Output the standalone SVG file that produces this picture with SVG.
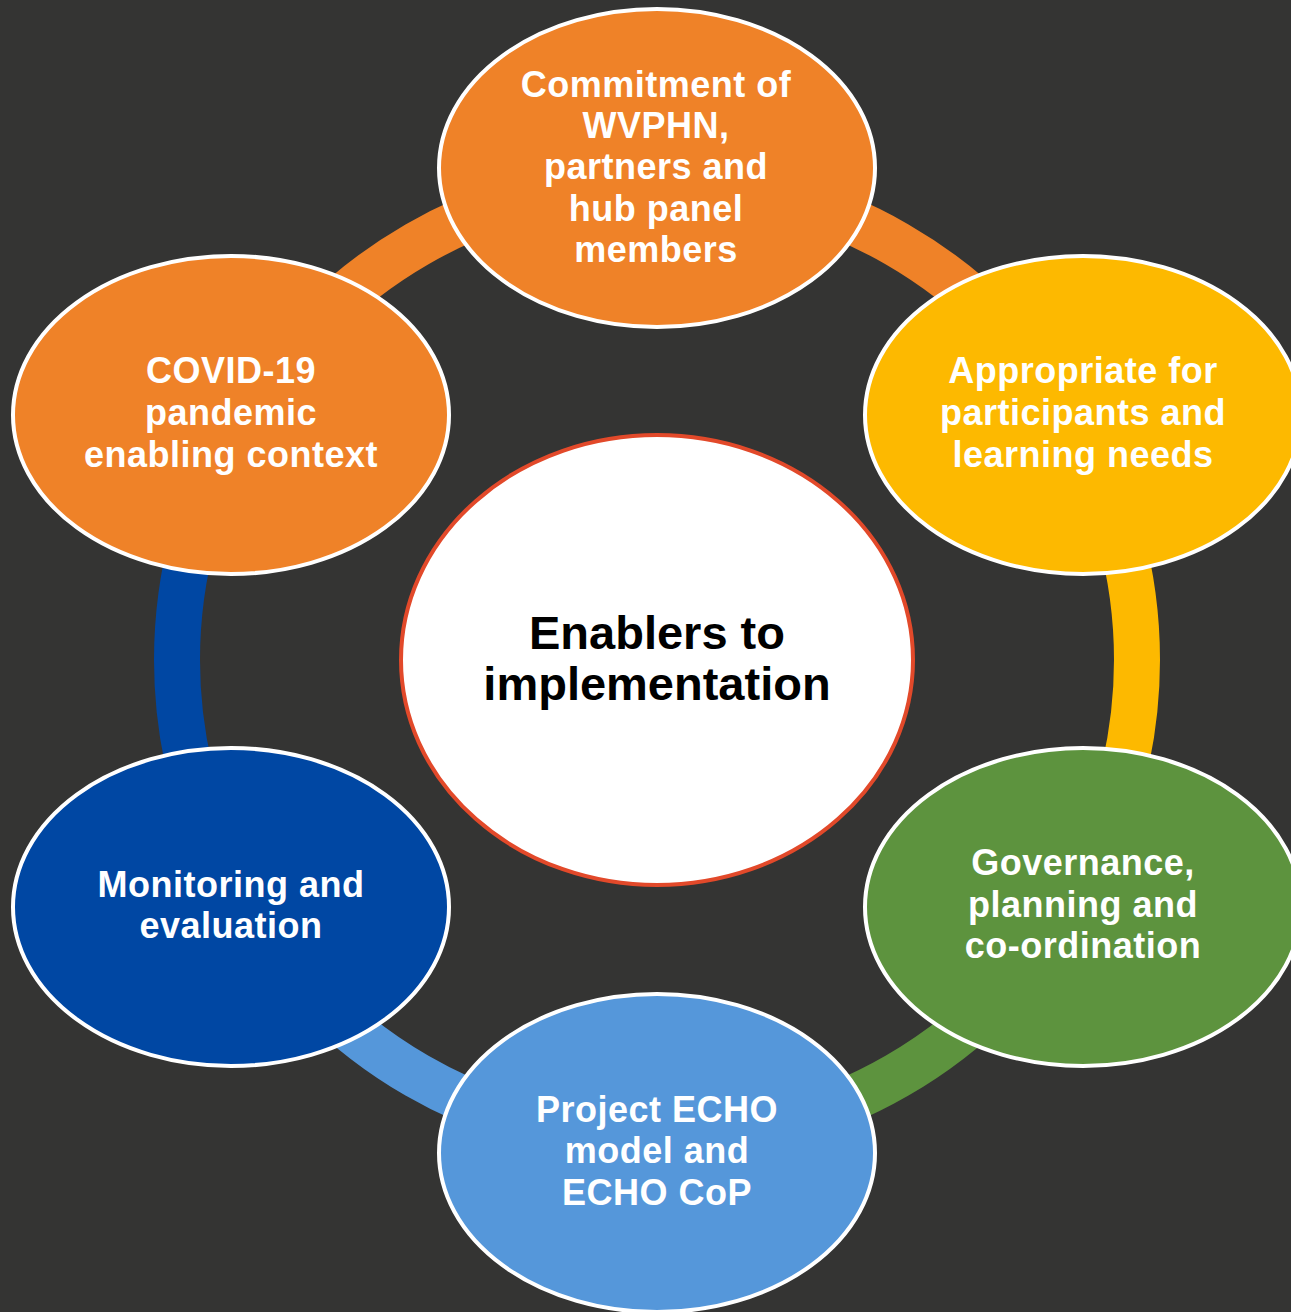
<svg xmlns="http://www.w3.org/2000/svg" width="1291" height="1312" viewBox="0 0 1291 1312">
  <style>
    .ring { fill: none; stroke-width: 46; }
    .node { stroke: #FFFFFF; stroke-width: 4; }
    .lbl { font-family: "Liberation Sans", Arial, sans-serif; font-weight: bold; font-size: 36px; letter-spacing: 0.5px; fill: #FFFFFF; text-anchor: middle; }
    .center-lbl { font-family: "Liberation Sans", Arial, sans-serif; font-weight: bold; font-size: 47px; fill: #000000; text-anchor: middle; }
  </style>
  <rect x="0" y="0" width="1291" height="1312" fill="#343433"/>
  <g id="connectors">
    <path class="ring" stroke="#EF8228" d="M 657 180 A 480 480 0 0 1 1072.69 420"/>
    <path class="ring" stroke="#FDB900" d="M 1072.69 420 A 480 480 0 0 1 1072.69 900"/>
    <path class="ring" stroke="#5D933E" d="M 1072.69 900 A 480 480 0 0 1 657 1140"/>
    <path class="ring" stroke="#5597DA" d="M 657 1140 A 480 480 0 0 1 241.31 900"/>
    <path class="ring" stroke="#0047A3" d="M 241.31 900 A 480 480 0 0 1 241.31 420"/>
    <path class="ring" stroke="#EF8228" d="M 241.31 420 A 480 480 0 0 1 657 180"/>
  </g>
  <g id="center">
    <ellipse cx="657" cy="660" rx="256" ry="225" fill="#FFFFFF" stroke="#E2492A" stroke-width="4"/>
    <text class="center-lbl" x="657" y="649">Enablers to</text>
    <text class="center-lbl" x="657" y="700">implementation</text>
  </g>
  <g id="node-commitment">
    <ellipse class="node" cx="657" cy="168" rx="218" ry="159" fill="#EF8228"/>
    <text class="lbl" x="656" y="97">Commitment of</text>
    <text class="lbl" x="656" y="138">WVPHN,</text>
    <text class="lbl" x="656" y="179">partners and</text>
    <text class="lbl" x="656" y="221">hub panel</text>
    <text class="lbl" x="656" y="262">members</text>
  </g>
  <g id="node-appropriate">
    <ellipse class="node" cx="1083" cy="415" rx="218" ry="159" fill="#FDB900"/>
    <text class="lbl" x="1083" y="383">Appropriate for</text>
    <text class="lbl" x="1083" y="425">participants and</text>
    <text class="lbl" x="1083" y="467">learning needs</text>
  </g>
  <g id="node-governance">
    <ellipse class="node" cx="1083" cy="907" rx="218" ry="159" fill="#5D933E"/>
    <text class="lbl" x="1083" y="875">Governance,</text>
    <text class="lbl" x="1083" y="917">planning and</text>
    <text class="lbl" x="1083" y="958">co-ordination</text>
  </g>
  <g id="node-echo">
    <ellipse class="node" cx="657" cy="1153" rx="218" ry="159" fill="#5597DA"/>
    <text class="lbl" x="657" y="1122">Project ECHO</text>
    <text class="lbl" x="657" y="1163">model and</text>
    <text class="lbl" x="657" y="1205">ECHO CoP</text>
  </g>
  <g id="node-monitoring">
    <ellipse class="node" cx="231" cy="907" rx="218" ry="159" fill="#0047A3"/>
    <text class="lbl" x="231" y="897">Monitoring and</text>
    <text class="lbl" x="231" y="938">evaluation</text>
  </g>
  <g id="node-covid">
    <ellipse class="node" cx="231" cy="415" rx="218" ry="159" fill="#EF8228"/>
    <text class="lbl" x="231" y="383">COVID-19</text>
    <text class="lbl" x="231" y="425">pandemic</text>
    <text class="lbl" x="231" y="467">enabling context</text>
  </g>
</svg>
